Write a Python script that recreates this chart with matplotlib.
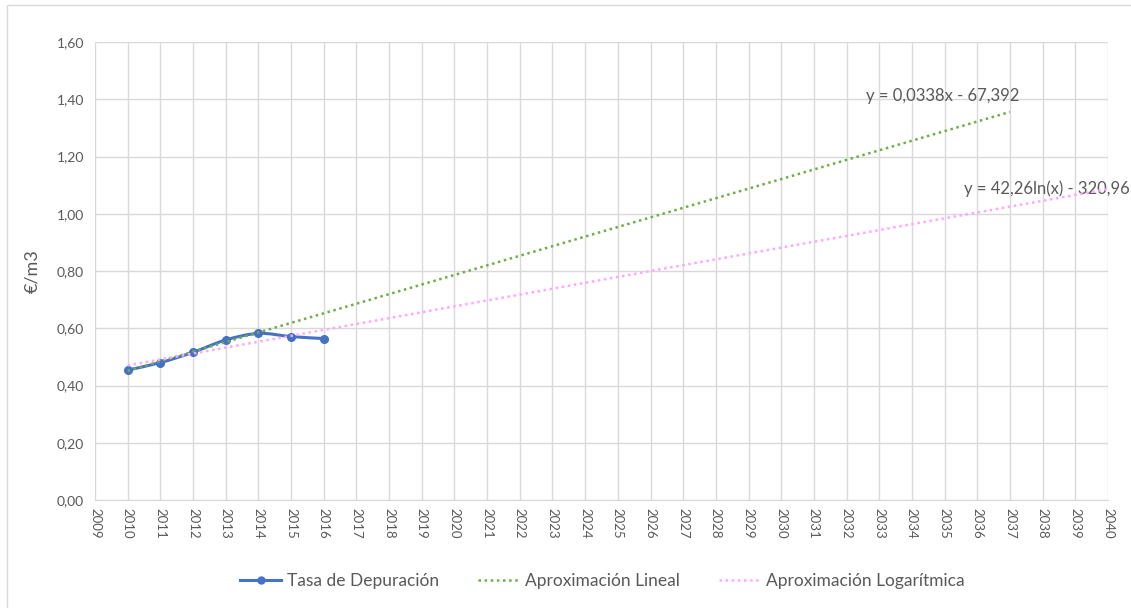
import numpy as np
import matplotlib
matplotlib.use("Agg")
from matplotlib import pyplot as plt
from matplotlib.path import Path
from matplotlib.patches import PathPatch, Rectangle
from matplotlib.lines import Line2D

# datos
anios = [2010, 2011, 2012, 2013, 2014, 2015, 2016]
tasa = [0.454, 0.480, 0.516, 0.559, 0.582, 0.571, 0.564]

# la tendencia lineal se ajusto sobre 2010-2014, la logaritmica sobre todo
n_lineal = 5
fin_lineal = 2037
fin_log = 2040
eq_lineal = "y = 0,0338x - 67,392"
eq_log = "y = 42,26ln(x) - 320,96"

x_ticks = list(range(2009, 2041))
y_ticks = [0.0, 0.2, 0.4, 0.6, 0.8, 1.0, 1.2, 1.4, 1.6]

azul = "#4472C4"
verde = "#70AD47"
rosa = "#FFA6FF"
gris_txt = "#595959"
gris_grid = "#D9D9D9"
punteado = (0, (1.0, 1.45))

plt.rcParams["font.family"] = ["Lato", "DejaVu Sans"]

fig = plt.figure(figsize=(11.31, 6.08), dpi=100)
fig.patches.append(Rectangle((7 / 1131, -0.1), 1.2, 1.1 - 5 / 608, transform=fig.transFigure,
                             fill=False, edgecolor=gris_grid, lw=1.0))
ax = fig.add_axes([95 / 1131, 108 / 608, 1013 / 1131, 458 / 608])


def curva_suave(xs, ys):
    # curva tipo "linea suavizada" de Excel (Bezier por Catmull-Rom)
    pts = list(zip(xs, ys))
    verts = [pts[0]]
    codes = [Path.MOVETO]
    for i in range(len(pts) - 1):
        p0 = pts[i - 1] if i > 0 else pts[i]
        p1 = pts[i]
        p2 = pts[i + 1]
        p3 = pts[i + 2] if i + 2 < len(pts) else pts[i + 1]
        c1 = (p1[0] + (p2[0] - p0[0]) / 6, p1[1] + (p2[1] - p0[1]) / 6)
        c2 = (p2[0] - (p3[0] - p1[0]) / 6, p2[1] - (p3[1] - p1[1]) / 6)
        verts += [c1, c2, p2]
        codes += [Path.CURVE4] * 3
    return Path(verts, codes)


ax.add_patch(PathPatch(curva_suave(anios, tasa), fill=False, edgecolor=azul,
                       lw=2.2, capstyle="round", joinstyle="round", zorder=3))
ax.plot(anios, tasa, ls="none", marker="o", ms=5.5, color=azul, zorder=4)

# tendencias
pend, orde = np.polyfit(anios[:n_lineal], tasa[:n_lineal], 1)
xl = np.array([anios[0], fin_lineal])
ax.plot(xl, pend * xl + orde, color=verde, lw=1.8, ls=punteado,
        dash_capstyle="butt", zorder=5)

a, b = np.polyfit(np.log(anios), tasa, 1)
xg = np.linspace(anios[0], fin_log, 200)
ax.plot(xg, a * np.log(xg) + b, color=rosa, lw=1.8, ls=punteado,
        dash_capstyle="butt", zorder=5)

ax.text(2032.59, 1.411, eq_lineal, fontsize=12, color=gris_txt, ha="left", va="center")
ax.text(2035.59, 1.086, eq_log, fontsize=12, color=gris_txt, ha="left", va="center",
        clip_on=False)

ax.set_xlim(2009, 2040)
ax.set_ylim(0, 1.6)
ax.set_xticks(x_ticks)
ax.set_xticklabels([str(v) for v in x_ticks], rotation=-90, fontsize=9.5, color=gris_txt)
ax.set_yticks(y_ticks)
ax.set_yticklabels([f"{v:.2f}".replace(".", ",") for v in y_ticks], fontsize=10, color=gris_txt)
ax.tick_params(length=0, pad=8)
ax.tick_params(axis="x", pad=6)
ax.grid(True, color=gris_grid, lw=1.0)
ax.set_axisbelow(True)
for s in ["top", "right", "left"]:
    ax.spines[s].set_visible(False)
ax.spines["bottom"].set_color(gris_grid)
ax.set_ylabel("€/m3", fontsize=13, color=gris_txt, labelpad=12)

handles = [
    Line2D([], [], color=azul, lw=2.2, marker="o", ms=5),
    Line2D([], [], color=verde, lw=1.8, ls=punteado, dash_capstyle="butt"),
    Line2D([], [], color=rosa, lw=1.8, ls=punteado, dash_capstyle="butt"),
]
etiquetas = ["Tasa de Depuración", "Aproximación Lineal", "Aproximación Logarítmica"]
leg = fig.legend(handles, etiquetas, loc="center", bbox_to_anchor=(602 / 1131, 1 - 581 / 608),
                 ncol=3, frameon=False, fontsize=12.5, handlelength=2.4, columnspacing=2.25,
                 handletextpad=0.3)
for t in leg.get_texts():
    t.set_color(gris_txt)

fig.savefig("out.png", dpi=100)
